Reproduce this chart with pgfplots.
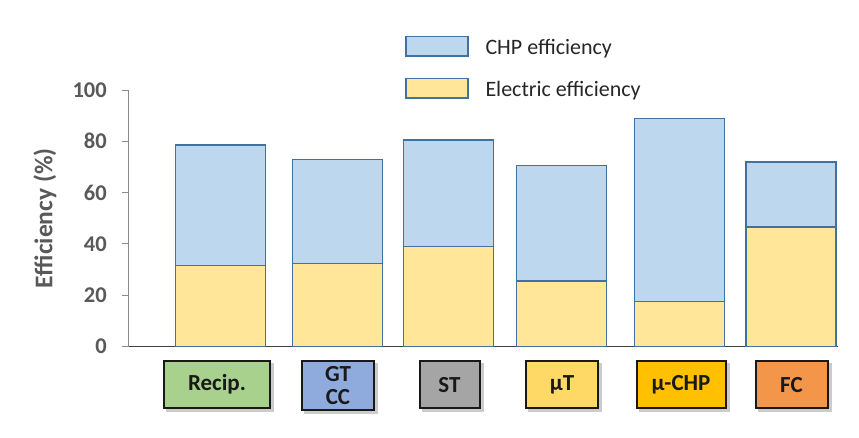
\documentclass[border=0pt]{standalone}
\usepackage{pgfplots}
\pgfplotsset{compat=1.18}
\usepackage{fontspec}
\setmainfont{Carlito}
\definecolor{elec}{HTML}{FFE699}
\definecolor{chp}{HTML}{BDD7EE}
\definecolor{edge}{HTML}{41719C}
\definecolor{tickgray}{HTML}{595959}
\definecolor{cRecip}{HTML}{A9D18E}
\definecolor{cGT}{HTML}{8FAADC}
\definecolor{cST}{HTML}{A5A5A5}
\definecolor{cmuT}{HTML}{FFD966}
\definecolor{cmuCHP}{HTML}{FFC000}
\definecolor{cFC}{HTML}{F4964A}
\newcommand{\tickfont}{\fontsize{22.5bp}{27bp}\selectfont\bfseries}
\newcommand{\labfont}{\fontsize{25.5bp}{30bp}\selectfont\bfseries}
\newcommand{\legfont}{\fontsize{22bp}{26bp}\selectfont}
\newcommand{\boxfont}{\fontsize{23bp}{23.5bp}\selectfont\bfseries}
\tikzset{catbox/.style={draw=black!90, line width=2bp, inner sep=0pt, minimum height=47bp, align=center,
   font=\boxfont, text=black!90,
   preaction={draw=black!20, fill=black!20, line width=2bp, transform canvas={xshift=3bp, yshift=-3bp}}}}
\pgfplotsset{boxlegend/.style={legend image code/.code={\draw[##1, line width=1.3bp] (0bp,-5.5bp) rectangle (62bp,14bp);}}}
\begin{document}
\begin{tikzpicture}
\useasboundingbox (0,0) rectangle (859bp,438bp);
\begin{axis}[
  at={(128bp,91.5bp)}, anchor=south west,
  scale only axis, width=710bp, height=256.5bp,
  xmin=128, xmax=838, ymin=0, ymax=100,
  clip=false,
  ybar stacked, bar width=90,
  axis x line*=bottom, axis y line*=left,
  x axis line style={draw=black!75, line width=0.8bp, -},
  y axis line style={draw=black!45, line width=0.8bp, -},
  xtick=\empty,
  ytick={0,20,40,60,80,100},
  y tick style={draw=black!45, line width=0.8bp},
  tick align=outside, major tick length=6bp,
  /pgf/number format/assume math mode=true,
  yticklabel style={font=\tickfont, text=tickgray, inner sep=2bp, xshift=-13bp},
  ylabel={Efficiency (\%)},
  every axis y label/.style={at={(axis cs:45,50)}, rotate=90, anchor=center, font=\labfont, text=tickgray},
  reverse legend,
  legend style={draw=none, fill=none, at={(axis cs:405,121.2)}, anchor=north west, inner sep=0pt, row sep=19.5bp, column sep=17bp,
    nodes={inner sep=0pt, text height=12bp, text depth=4bp, font=\legfont, text=black!85}},
  legend cell align=left,
]
\addplot[fill=elec, draw=edge, line width=1.3bp, boxlegend]
  coordinates {(220.7,31.6) (337.7,32.3) (448.7,38.9) (561.7,25.5) (679.7,17.6) (791,46.6)};
\addlegendentry{Electric efficiency}
\addplot[fill=chp, draw=edge, line width=1.3bp, boxlegend]
  coordinates {(220.7,46.9) (337.7,40.5) (448.7,41.6) (561.7,45.2) (679.7,71.4) (791,25.3)};
\addlegendentry{CHP efficiency}
\node[catbox, fill=cRecip, minimum width=106bp] at (axis cs:217,-14.8) {Recip.};
\node[catbox, fill=cGT, minimum width=72bp, minimum height=49bp] at (axis cs:338,-15.2) {GT\\CC};
\node[catbox, fill=cST, minimum width=60bp] at (axis cs:449.5,-15) {ST};
\node[catbox, fill=cmuT, minimum width=72bp] at (axis cs:562,-14.8) {µT};
\node[catbox, fill=cmuCHP, minimum width=89bp] at (axis cs:681,-15) {µ-CHP};
\node[catbox, fill=cFC, minimum width=72bp] at (axis cs:791.5,-15) {FC};
\end{axis}
\end{tikzpicture}
\end{document}
